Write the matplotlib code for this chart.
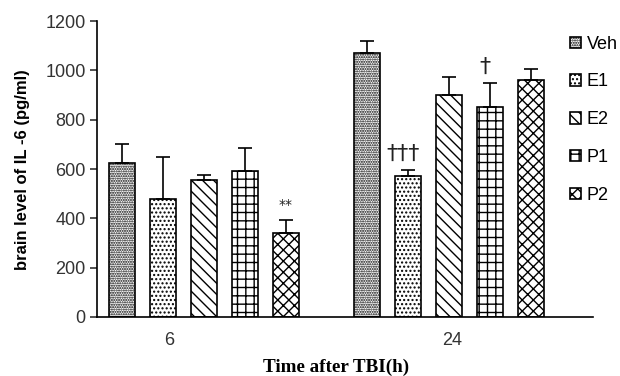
import matplotlib
matplotlib.use("Agg")
import matplotlib.pyplot as plt
import numpy as np

groups = ["6", "24"]
series = ["Veh", "E1", "E2", "P1", "P2"]
means = {
    "Veh": [625, 1070],
    "E1": [480, 570],
    "E2": [555, 900],
    "P1": [590, 850],
    "P2": [340, 960],
}
errs = {
    "Veh": [75, 50],
    "E1": [170, 25],
    "E2": [20, 72],
    "P1": [95, 100],
    "P2": [55, 45],
}
marks = {("P2", 0): "**", ("E1", 1): "\u2020\u2020\u2020", ("P1", 1): "\u2020"}
yticks = [0, 200, 400, 600, 800, 1000, 1200]

hatches = {"Veh": ".......", "E1": "....", "E2": "\\\\\\", "P1": "++", "P2": "xxx"}

plt.rcParams["font.family"] = ["Liberation Sans", "DejaVu Sans"]
plt.rcParams["hatch.linewidth"] = 1.0

fig = plt.figure(figsize=(6.2, 3.76), dpi=100)
ax = fig.add_axes([0.156, 0.157, 0.80, 0.787])

spacing = 0.167
width = 0.106
gpos = np.arange(len(groups))
for i, s in enumerate(series):
    x = gpos + (i - 2) * spacing
    ax.bar(x, means[s], width, color="white", edgecolor="black", hatch=hatches[s],
           linewidth=1.2, label=s, zorder=2)
    ax.errorbar(x, means[s], yerr=[np.zeros(len(groups)), errs[s]], fmt="none",
                ecolor="black", elinewidth=1.2, capsize=5, capthick=1.2, zorder=3)
    for g in range(len(groups)):
        if (s, g) in marks:
            txt = marks[(s, g)]
            if txt == "**":
                ax.text(x[g], means[s][g] + errs[s][g] + 30, txt, ha="center", va="bottom",
                        fontsize=10, family="DejaVu Sans", color="#222222")
            else:
                ax.text(x[g] - 0.02, means[s][g] + errs[s][g] + 25, txt, ha="center",
                        va="bottom", fontsize=16, family="DejaVu Sans", color="#222222")

ax.set_xlim(-0.436, 1.584)
ax.set_ylim(0, 1200)
ax.set_yticks(yticks)
ax.tick_params(axis="y", labelsize=13, length=5, width=1.2, colors="#333333", pad=3)
ax.set_xticks([-0.14, 1.01])
ax.set_xticklabels(groups)
ax.tick_params(axis="x", length=0, labelsize=13, pad=11, colors="#333333")
for sp in ["top", "right"]:
    ax.spines[sp].set_visible(False)
for sp in ["left", "bottom"]:
    ax.spines[sp].set_linewidth(1.2)

fig.text(0.036, 0.55, "brain level of IL -6 (pg/ml)", fontsize=12, fontweight="bold",
         rotation=90, ha="center", va="center")
fig.text(0.542, 0.024, "Time after TBI(h)", fontsize=13.8, fontweight="bold",
         family="Liberation Serif", ha="center", va="center")

leg = ax.legend(loc="upper left", bbox_to_anchor=(0.94, 0.975), frameon=False,
                fontsize=13, handlelength=0.6, handleheight=0.6, labelspacing=1.15,
                handletextpad=0.3, borderaxespad=0)

fig.savefig("out.png", dpi=100)
